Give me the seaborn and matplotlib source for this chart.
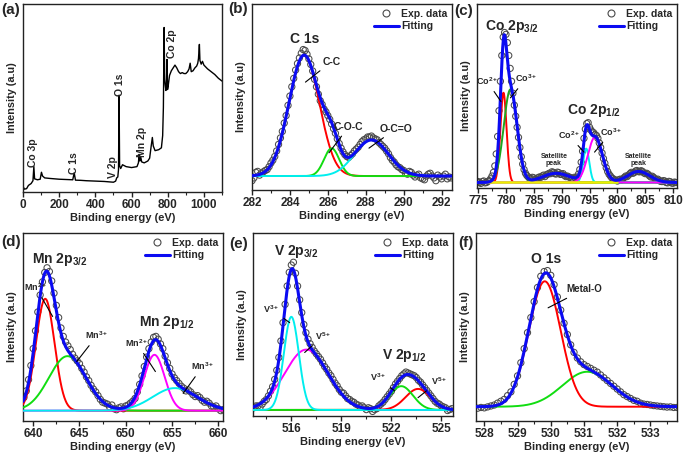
import numpy as np
import matplotlib
matplotlib.use("Agg")
import matplotlib.pyplot as plt
import seaborn as sns
from matplotlib.lines import Line2D
from matplotlib.ticker import MultipleLocator

sns.set_theme(style="white")
plt.rcParams['font.family'] = ['Liberation Sans', 'DejaVu Sans']
plt.rcParams['font.weight'] = 'bold'
plt.rcParams['axes.labelweight'] = 'bold'
plt.rcParams['mathtext.fontset'] = 'custom'
plt.rcParams['mathtext.rm'] = 'Liberation Sans:bold'
plt.rcParams['mathtext.bf'] = 'Liberation Sans:bold'
plt.rcParams['mathtext.it'] = 'Liberation Sans:bold'
plt.rcParams['mathtext.default'] = 'bf'

# ---------------- data ----------------
# (a) survey spectrum
A_E = [0, 8, 20, 30, 45, 55, 60, 64, 80, 95, 102, 108, 120, 150, 200, 250, 275, 283, 290, 320,
       350, 400, 450, 500, 512, 518, 524, 528, 531, 534, 540, 550, 570, 600, 630, 638, 642, 646, 650, 656,
       670, 690, 700, 708, 715, 720, 730, 750, 765, 772, 776, 780, 783, 786, 790, 793, 796, 799, 802, 810,
       820, 830, 840, 850, 860, 870, 880, 890, 900, 910, 918, 924, 930, 940, 950, 960, 966, 970, 975, 978,
       985, 992, 1000, 1020, 1040, 1060, 1080, 1100]
A_I = [3.0, 1.5, 1.8, 3.5, 4.5, 6.0, 13.5, 7.0, 6.5, 6.8, 10.5, 8.5, 7.5, 7.2, 6.8, 6.6, 6.5, 10.2, 6.3, 6.2,
       6.0, 5.8, 5.6, 5.2, 5.8, 7.5, 8.0, 12.0, 51.5, 14.0, 12.5, 14.5, 13.5, 13.0, 13.5, 15.5, 20.0, 16.5, 19.0, 16.0,
       15.5, 16.5, 18.0, 24.0, 29.0, 24.5, 22.0, 22.5, 23.5, 30.0, 45.0, 87.5, 60.0, 57.0, 54.0, 58.0, 70.5, 54.5, 56.0, 62.0,
       64.5, 66.0, 67.5, 66.0, 64.0, 63.0, 63.5, 63.0, 63.0, 64.0, 65.5, 68.5, 64.0, 64.5, 66.0, 67.0, 68.5, 71.0, 78.5, 70.0,
       68.0, 69.5, 67.5, 65.5, 64.0, 62.5, 60.5, 59.0]
A_LABELS = ["Co 3p", "C 1s", "V 2p", "O 1s", "Mn 2p", "Co 2p"]
A_LABEL_E = [55, 281, 499, 536, 656, 822]
A_LABEL_I = [21, 15.5, 13, 57, 26.5, 79]

# (b) C 1s
B_E0, B_STEP = 282.0, 0.1
B_EXP = [5.0, 6.5, 9.5, 10.0, 8.0, 9.0, 9.8, 10.5, 11.0, 12.5,
         14.5, 16.0, 18.0, 21.0, 24.5, 28.0, 31.5, 36.0, 40.0, 45.5,
         50.5, 55.5, 60.0, 64.5, 68.0, 71.0, 73.5, 75.5, 75.0, 73.0,
         70.5, 67.5, 64.0, 59.5, 55.5, 51.5, 48.0, 46.0, 43.5, 42.0,
         40.0, 38.0, 35.5, 33.0, 30.5, 27.5, 25.0, 22.5, 20.5, 19.0,
         18.0, 17.5, 18.5, 19.5, 21.0, 22.0, 23.0, 24.5, 26.0, 27.0,
         27.5, 28.5, 28.5, 29.0, 28.0, 27.5, 27.0, 25.5, 24.5, 23.5,
         22.5, 21.0, 19.5, 17.5, 16.0, 15.0, 13.5, 12.5, 12.0, 11.0,
         10.5, 9.0, 8.5, 10.0, 9.5, 8.0, 7.0, 8.0, 8.5, 6.5,
         6.0, 5.5, 7.5, 8.5, 9.0, 7.5, 6.5, 5.0, 8.0, 7.0,
         6.0, 7.5, 8.5, 6.0, 7.0, 6.5]
B_BASE = 7.5
B_CENTER = [284.75, 286.2, 288.3]
B_HEIGHT = [65.0, 14.9, 19.4]
B_SIGMA = [0.8, 0.4, 0.9]
B_COLOR = ['#ff0000', '#11dd11', '#00eeee']

# (c) Co 2p
C_E0, C_STEP = 775.0, 0.25
C_EXP = [3.5, 3.0, 2.5, 3.5, 3.8, 2.8, 3.0, 3.6, 4.0, 5.0,
         6.5, 8.5, 12.0, 18.5, 28.0, 42.0, 58.0, 72.0, 82.0, 84.5,
         83.5, 79.0, 72.0, 65.0, 58.0, 51.5, 45.0, 39.0, 33.0, 27.5,
         22.0, 17.0, 13.0, 10.0, 8.0, 6.8, 6.0, 5.2, 5.0, 5.8,
         5.5, 4.6, 4.8, 5.6, 6.0, 5.8, 6.5, 7.0, 6.2, 7.2,
         7.5, 8.0, 7.8, 8.8, 8.5, 7.8, 7.6, 8.6, 8.3, 7.4,
         7.5, 7.8, 6.8, 6.2, 6.5, 6.0, 5.8, 5.2, 5.0, 5.8,
         5.5, 6.0, 7.5, 10.0, 14.0, 20.0, 27.0, 32.0, 35.0, 35.5,
         33.0, 31.5, 30.5, 30.0, 29.0, 28.5, 27.0, 24.5, 22.0, 19.0,
         16.0, 13.5, 11.0, 9.0, 7.5, 6.5, 5.5, 5.0, 4.5, 4.2,
         3.8, 4.5, 4.8, 4.4, 5.0, 5.8, 6.5, 6.2, 7.0, 7.8,
         8.5, 8.0, 8.3, 9.2, 9.5, 8.9, 8.8, 9.4, 9.0, 8.2,
         7.8, 8.0, 7.5, 6.6, 6.0, 6.4, 5.8, 5.0, 4.5, 4.8,
         4.2, 3.6, 3.5, 4.0, 3.8, 3.0, 2.8, 3.6, 3.4, 2.7,
         2.6, 3.2, 3.0]
C_BASE = 3.0
C_CENTER = [779.55, 780.8, 794.4, 796.0]
C_HEIGHT = [48.8, 50.6, 18.4, 24.7]
C_SIGMA = [0.55, 1.2, 0.55, 1.3]
C_COLOR = ['#ff0000', '#1fa51f', '#00eeee', '#ff00ff']
C_SAT_CENTER = [789.0, 803.8]
C_SAT_HEIGHT = [5.0, 6.0]
C_SAT_SIGMA = [2.5, 2.0]
C_BG_RANGE = [774.8, 800.0]

# (d) Mn 2p
D_E0, D_STEP = 639.0, 0.25
D_EXP = [12.5, 16.0, 22.0, 29.5, 38.5, 48.0, 58.0, 67.0, 74.0, 79.0,
         81.5, 79.5, 74.5, 68.0, 61.5, 55.0, 49.5, 45.0, 42.0, 40.0,
         38.0, 35.5, 33.5, 32.0, 30.5, 28.0, 26.0, 23.5, 21.5, 19.0,
         17.0, 15.5, 13.5, 11.5, 10.0, 9.5, 9.0, 7.5, 8.5, 6.5,
         6.0, 7.0, 7.5, 6.5, 8.0, 8.5, 9.5, 10.5, 12.0, 15.5,
         19.5, 24.0, 29.0, 34.0, 38.5, 42.0, 44.5, 45.0, 43.5, 41.0,
         38.5, 34.5, 31.0, 28.0, 25.0, 23.0, 21.5, 20.0, 18.5, 17.5,
         16.0, 16.5, 15.5, 14.0, 13.0, 13.5, 12.5, 11.0, 10.0, 10.5,
         9.5, 8.0, 7.5, 8.0, 6.5, 5.5, 6.0]
D_BASE = 5.5
D_CENTER = [641.3, 643.7, 653.1, 655.3]
D_HEIGHT = [59.5, 29.0, 29.7, 12.0]
D_SIGMA = [1.0, 2.0, 1.1, 2.4]
D_COLOR = ['#ff0000', '#11dd11', '#ff00ff', '#00eeee']

# (e) V 2p
E_E0, E_STEP = 513.75, 0.125
E_EXP = [4.5, 5.5, 5.5, 4.8, 6.5, 8.0, 9.0, 11.0, 13.5, 16.0,
         20.0, 25.0, 32.0, 41.0, 51.0, 61.0, 71.0, 78.5, 82.5, 84.0,
         78.0, 71.0, 63.5, 56.5, 50.0, 45.5, 42.0, 39.5, 37.5, 35.5,
         34.0, 32.5, 31.0, 29.0, 27.0, 25.5, 23.5, 22.0, 20.0, 18.0,
         16.5, 14.5, 13.0, 12.5, 11.0, 9.5, 9.0, 8.0, 7.5, 6.5,
         6.0, 5.0, 5.5, 4.5, 3.5, 4.5, 4.0, 2.5, 3.5, 4.0,
         5.5, 6.5, 7.5, 9.0, 10.5, 12.0, 13.5, 15.5, 17.5, 19.0,
         20.5, 22.0, 23.0, 24.0, 23.5, 23.0, 22.5, 22.0, 21.0, 19.5,
         18.5, 17.0, 15.5, 14.0, 12.5, 11.0, 9.5, 8.0, 7.0, 6.5,
         5.5, 5.0, 4.5, 3.0, 3.5, 4.0]
E_BASE = 3.3
E_CENTER = [516.9, 523.6, 522.6, 516.0]
E_HEIGHT = [33.0, 11.5, 13.0, 50.9]
E_SIGMA = [1.3, 0.75, 0.7, 0.45]
E_COLOR = ['#ff00ff', '#ff0000', '#11dd11', '#00eeee']

# (f) O 1s
F_E0, F_STEP = 527.8, 0.1
F_EXP = [6.8, 7.2, 7.0, 7.5, 8.0, 8.5, 9.5, 10.5, 11.5, 13.5,
         15.5, 19.5, 24.0, 31.0, 38.5, 47.0, 55.0, 63.5, 71.0, 77.0,
         79.5, 80.0, 77.5, 72.5, 66.0, 59.0, 52.0, 46.0, 40.5, 36.5,
         33.5, 31.5, 30.0, 29.0, 28.0, 27.0, 26.0, 24.5, 23.0, 21.5,
         20.0, 18.5, 17.0, 15.5, 14.0, 13.0, 12.0, 11.0, 10.5, 9.5,
         9.0, 8.8, 8.5, 8.2, 8.0, 7.8, 7.6, 7.4, 7.5, 7.2,
         7.2]
F_BASE = 7.6
F_CENTER = [531.1, 529.82]
F_HEIGHT = [18.6, 66.7]
F_SIGMA = [0.75, 0.48]
F_COLOR = ['#11dd11', '#ff0000']

BLUE = '#0b0bf2'
W, H = 685, 458
fig = plt.figure(figsize=(W / 100, H / 100), dpi=100)


def add_ax(l, t, r, b):
    return fig.add_axes([l / W, 1 - b / H, (r - l) / W, (b - t) / H])


def gauss(x, c, h, s):
    return h * np.exp(-(x - c) ** 2 / (2 * s ** 2))


def style(ax, xlim, major, minor, ticks=None):
    ax.set_xlim(*xlim)
    ax.set_ylim(0, 100)
    ax.set_yticks([])
    if ticks is not None:
        ax.set_xticks(ticks)
    else:
        ax.xaxis.set_major_locator(MultipleLocator(major))
    ax.xaxis.set_minor_locator(MultipleLocator(minor))
    ax.tick_params(axis='x', which='major', direction='out', length=3.5, width=1,
                   labelsize=8.5, pad=1.5, bottom=True, color='#222222')
    ax.tick_params(axis='x', which='minor', direction='out', length=2, width=0.8,
                   bottom=True, color='#222222')
    for s in ax.spines.values():
        s.set_linewidth(1.0)
        s.set_color('#222222')
    ax.set_xlabel('Binding energy (eV)', fontsize=8, labelpad=1.5)
    ax.set_ylabel('Intensity (a.u)', fontsize=7.8, labelpad=4)


def fit_panel(ax, e0, step, exp, base, centers, heights, sigmas, colors, xlim,
              extra_c=(), extra_h=(), extra_s=(), comp_ranges=None):
    xe = e0 + step * np.arange(len(exp))
    sns.scatterplot(x=xe, y=exp, ax=ax, marker='o', s=20, facecolor='none',
                    edgecolor='#4a4a4a', linewidth=0.75, legend=False, zorder=2)
    xg = np.linspace(xlim[0], xlim[1], 600)
    env = np.full_like(xg, base)
    for i, (c, h, s, col) in enumerate(zip(centers, heights, sigmas, colors)):
        yc = base + gauss(xg, c, h, s)
        env += gauss(xg, c, h, s)
        m = np.ones_like(xg, dtype=bool)
        if comp_ranges is not None and comp_ranges[i] is not None:
            m = (xg >= comp_ranges[i][0]) & (xg <= comp_ranges[i][1])
        sns.lineplot(x=xg[m], y=yc[m], ax=ax, color=col, lw=1.4, legend=False,
                     estimator=None, sort=False, zorder=3)
    for c, h, s in zip(extra_c, extra_h, extra_s):
        env += gauss(xg, c, h, s)
    return xg, env


def legend(ax):
    h1 = Line2D([], [], ls='none', marker='o', mfc='none', mec='#4a4a4a', ms=5, mew=0.8)
    h2 = Line2D([], [], color=BLUE, lw=2.2)
    ax.legend([h1, h2], ['Exp. data', 'Fitting'], loc='upper right', frameon=False,
              prop={'size': 7.5, 'weight': 'bold'}, handlelength=2.4, handletextpad=0.2,
              labelspacing=0.25, borderaxespad=0.25, borderpad=0.2)


def note(ax, txt, xy, xytext, fs=6.5):
    ax.annotate(txt, xy=xy, xytext=xytext, ha='center', va='center', fontsize=fs,
                fontweight='bold', zorder=6,
                arrowprops=dict(arrowstyle='-', lw=0.8, color='black', shrinkA=1, shrinkB=0))


# ---------- (a) ----------
ax = add_ax(23, 4, 222, 192)
sns.lineplot(x=A_E, y=A_I, ax=ax, color='black', lw=1.0, estimator=None, sort=False, legend=False)
style(ax, (0, 1100), 200, 100)
for t, e, i in zip(A_LABELS, A_LABEL_E, A_LABEL_I):
    ax.text(e, i, t, rotation=90, ha='center', va='center', fontsize=7.5, fontweight='semibold')

# ---------- (b) ----------
ax = add_ax(252, 4, 452, 190)
xl = (282.0, 292.55)
xg, env = fit_panel(ax, B_E0, B_STEP, B_EXP, B_BASE, B_CENTER, B_HEIGHT, B_SIGMA, B_COLOR, xl)
sns.lineplot(x=xg, y=env, ax=ax, color=BLUE, lw=2.2, estimator=None, sort=False, legend=False, zorder=4)
style(ax, xl, 2, 1)
legend(ax)
ax.text(284.77, 81, 'C 1s', ha='center', va='center', fontsize=10, zorder=6)
note(ax, 'C-C', (284.82, 58), (286.2, 69), 7.5)
note(ax, 'C-O-C', (286.06, 20), (287.1, 34), 7.5)
note(ax, 'O-C=O', (288.17, 22.5), (289.6, 33), 7.5)

# ---------- (c) ----------
ax = add_ax(477, 4, 677, 188)
xl = (774.8, 810.7)
xg, env = fit_panel(ax, C_E0, C_STEP, C_EXP, C_BASE, C_CENTER, C_HEIGHT, C_SIGMA, C_COLOR, xl,
                    C_SAT_CENTER, C_SAT_HEIGHT, C_SAT_SIGMA)
sns.lineplot(x=C_BG_RANGE, y=[C_BASE, C_BASE], ax=ax, color='#eeee00', lw=1.8, estimator=None,
             sort=False, legend=False, zorder=3)
sns.lineplot(x=xg, y=env, ax=ax, color=BLUE, lw=2.2, estimator=None, sort=False, legend=False, zorder=4)
style(ax, xl, 5, 2.5)
legend(ax)
ax.text(781.1, 88, r'Co 2p$_{3/2}$', ha='center', va='center', fontsize=10, zorder=6)
ax.text(795.8, 42, r'Co 2p$_{1/2}$', ha='center', va='center', fontsize=10, zorder=6)
note(ax, r'Co$^{2+}$', (779.1, 47), (776.6, 58), 6.5)
note(ax, r'Co$^{3+}$', (780.8, 49), (783.6, 59.5), 6.5)
note(ax, r'Co$^{2+}$', (794.0, 19.5), (791.3, 28.6), 6.5)
note(ax, r'Co$^{3+}$', (795.9, 19.5), (798.9, 30.4), 6.5)
ax.text(788.6, 15.2, 'Satellite\npeak', ha='center', va='center', fontsize=5, linespacing=0.95)
ax.text(803.8, 15.2, 'Satellite\npeak', ha='center', va='center', fontsize=5, linespacing=0.95)

# ---------- (d) ----------
ax = add_ax(23, 233, 223, 421)
xl = (638.9, 660.5)
xg, env = fit_panel(ax, D_E0, D_STEP, D_EXP, D_BASE, D_CENTER, D_HEIGHT, D_SIGMA, D_COLOR, xl)
sns.lineplot(x=xg, y=env, ax=ax, color=BLUE, lw=2.2, estimator=None, sort=False, legend=False, zorder=4)
style(ax, xl, 5, 2.5)
legend(ax)
ax.text(642.9, 86, r'Mn 2p$_{3/2}$', ha='center', va='center', fontsize=10, zorder=6)
ax.text(654.4, 52.6, r'Mn 2p$_{1/2}$', ha='center', va='center', fontsize=10, zorder=6)
note(ax, r'Mn$^{2+}$', (642.1, 55.6), (640.3, 71), 6.5)
note(ax, r'Mn$^{3+}$', (644.7, 31.6), (646.9, 45.5), 6.5)
note(ax, r'Mn$^{2+}$', (653.2, 26.3), (651.2, 41.4), 6.5)
note(ax, r'Mn$^{3+}$', (656.2, 14.7), (658.3, 29), 6.5)

# ---------- (e) ----------
ax = add_ax(253, 233, 453, 416)
xl = (513.7, 525.7)
xg, env = fit_panel(ax, E_E0, E_STEP, E_EXP, E_BASE, E_CENTER, E_HEIGHT, E_SIGMA, E_COLOR, xl)
sns.lineplot(x=xg, y=env, ax=ax, color=BLUE, lw=2.2, estimator=None, sort=False, legend=False, zorder=4)
style(ax, xl, 3, 1.5, ticks=[516, 519, 522, 525])
legend(ax)
ax.text(516.3, 90, r'V 2p$_{3/2}$', ha='center', va='center', fontsize=10, zorder=6)
ax.text(522.8, 33.2, r'V 2p$_{1/2}$', ha='center', va='center', fontsize=10, zorder=6)
note(ax, r'V$^{3+}$', (515.9, 51), (514.8, 58.4), 6.5)
note(ax, r'V$^{5+}$', (516.8, 34.7), (517.9, 43.8), 6.5)
note(ax, r'V$^{3+}$', (522.2, 13.7), (521.2, 21), 6.5)
note(ax, r'V$^{5+}$', (523.6, 10), (524.85, 19.2), 6.5)

# ---------- (f) ----------
ax = add_ax(476, 233, 677, 421)
xl = (527.75, 533.8)
xg, env = fit_panel(ax, F_E0, F_STEP, F_EXP, F_BASE, F_CENTER, F_HEIGHT, F_SIGMA, F_COLOR, xl,
                    comp_ranges=[None, (529.0, 533.8)])
sns.lineplot(x=xg, y=env, ax=ax, color=BLUE, lw=2.2, estimator=None, sort=False, legend=False, zorder=4)
style(ax, xl, 1, 0.5)
legend(ax)
ax.text(529.85, 86, 'O 1s', ha='center', va='center', fontsize=10, zorder=6)
note(ax, 'Metal-O', (529.92, 60.2), (531.0, 70), 7)

# panel letters
for lab, px, py in [('(a)', 11, 10), ('(b)', 238, 9), ('(c)', 464, 11),
                    ('(d)', 11, 242), ('(e)', 239, 244), ('(f)', 466, 243)]:
    fig.text(px / W, 1 - py / H, lab, ha='center', va='center', fontsize=11, fontweight='bold')

fig.savefig('out.png', dpi=100)
